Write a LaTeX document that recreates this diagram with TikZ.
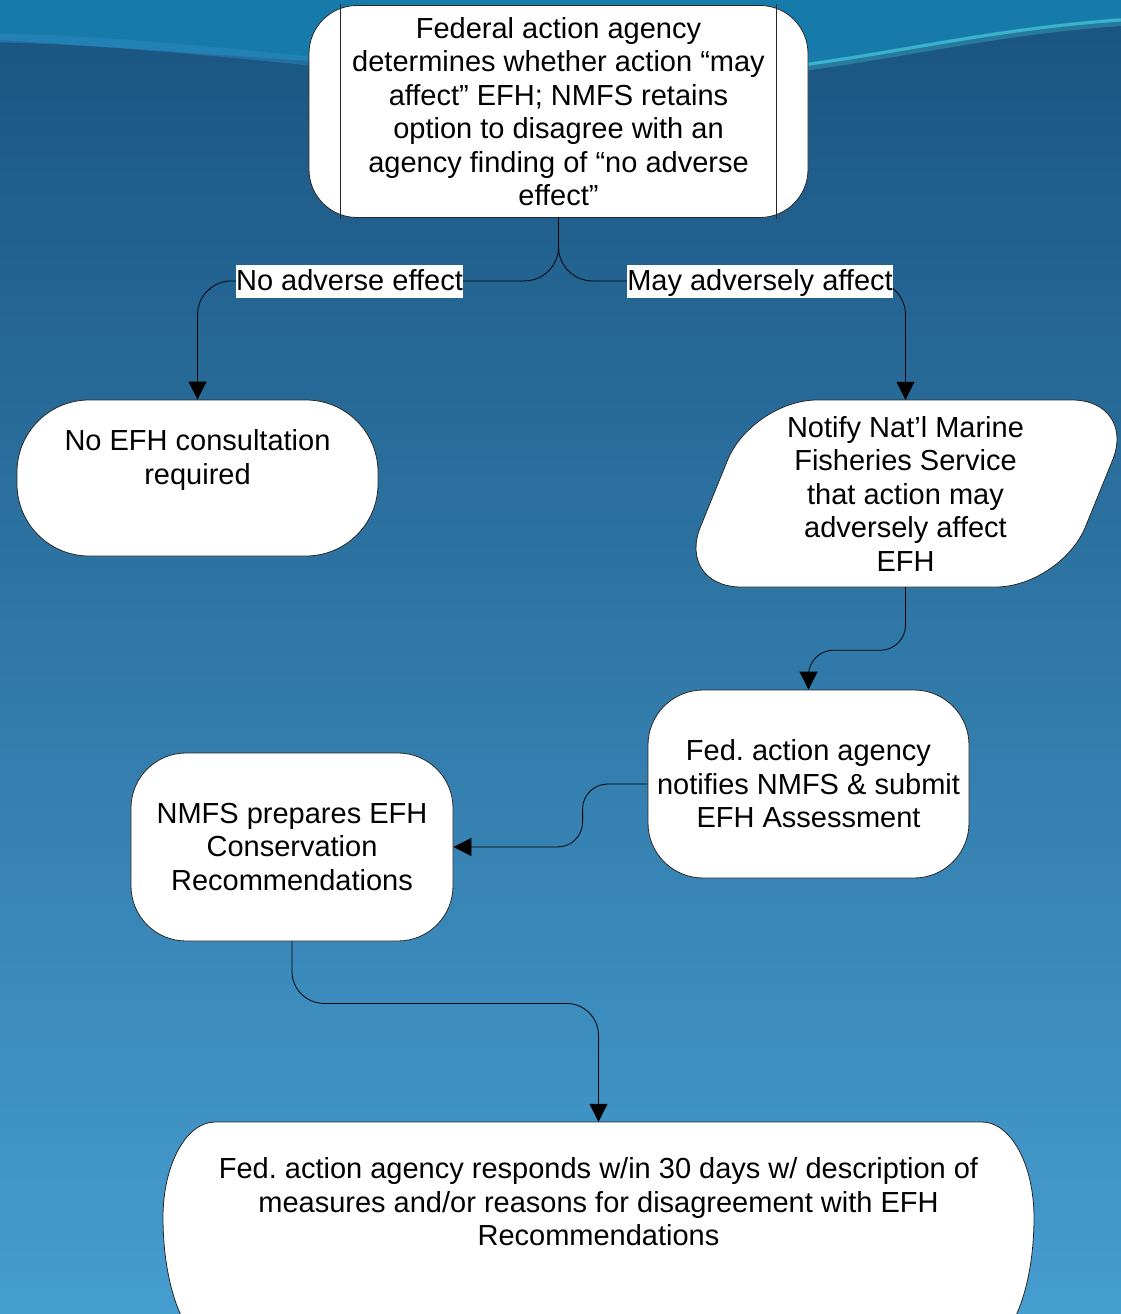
\documentclass[tikz,border=0pt]{standalone}
\usepackage{fontspec}
\setmainfont{Liberation Sans}
\usetikzlibrary{arrows.meta}
\newcommand{\efhfont}{\fontsize{29}{33.5}\selectfont}
\definecolor{bgtop}{RGB}{26,84,128}
\definecolor{bgmid}{RGB}{53,130,183}
\definecolor{bgbot}{RGB}{70,157,208}
\definecolor{wave}{RGB}{22,130,178}
\definecolor{waveline}{RGB}{64,190,212}
\definecolor{waveleft}{RGB}{50,140,195}
\frenchspacing
\begin{document}
\begin{tikzpicture}[x=1pt,y=-1pt,
  outl/.style={draw=black!85, line width=0.8pt},
  flowbox/.style={outl, fill=white, rounded corners=#1, inner sep=0pt, align=center, font=\efhfont},
  txt/.style={align=center, font=\efhfont, inner sep=0pt},
  lbl/.style={fill=white, inner sep=0pt, font=\efhfont, text height=25pt, text depth=7.5pt},
  conn/.style={draw=black, line width=0.8pt, -{Triangle[width=18pt,length=18pt]}}]
\useasboundingbox (0,0) rectangle (1121,1314);
\begin{scope}
\clip (0,0) rectangle (1121,1314);
% background
\shade[top color=bgtop, middle color=bgmid, bottom color=bgbot] (0,0) rectangle (1121,1314);
\fill[wave, opacity=0.85] (0,0) -- (1121,0) -- (1121,20) .. controls (980,30) and (880,58) .. (760,70) .. controls (560,85) and (350,62) .. (0,40) -- cycle;
\draw[waveline, opacity=0.35, line width=8pt] (1121,22) .. controls (980,32) and (880,60) .. (760,72);
\draw[waveline, opacity=0.8, line width=3pt] (1121,20) .. controls (980,30) and (880,58) .. (760,70);
\draw[waveleft, opacity=0.45, line width=9pt] (0,38) .. controls (100,40) and (200,50) .. (330,63);

% top node
\node[flowbox=48pt, minimum width=499pt, minimum height=212pt] (top) at (558.5,111.5)
  {Federal action agency\\determines whether action “may\\affect” EFH; NMFS retains\\option to disagree with an\\agency finding of “no adverse\\effect”};
\draw[outl] ([xshift=32pt,yshift=1pt]top.north west) -- ([xshift=32pt,yshift=-1pt]top.south west);
\draw[outl] ([xshift=-32pt,yshift=1pt]top.north east) -- ([xshift=-32pt,yshift=-1pt]top.south east);

% no EFH consultation
\node[flowbox=72pt, minimum width=361pt, minimum height=156pt] (noefh) at (197.5,478) {};
\node[txt] (noefh-t) at ([yshift=18pt]noefh.center) {No EFH consultation\\required};

% notify (rounded parallelogram)
\filldraw[outl, fill=white, rounded corners=65pt] (950,400) -- (1137,400) -- (1061,587) -- (676,587) -- (752,400) -- cycle;
\node[txt, minimum width=385pt, minimum height=187pt] (notify) at (905.5,493.5)
  {Notify Nat’l Marine\\Fisheries Service\\that action may\\adversely affect\\EFH};

% fed notifies
\node[flowbox=55pt, minimum width=321pt, minimum height=188pt] (fed) at (808.5,784)
  {Fed. action agency\\notifies NMFS \& submit\\EFH Assessment};

% NMFS prepares
\node[flowbox=55pt, minimum width=322pt, minimum height=188pt] (nmfs) at (292,847)
  {NMFS prepares EFH\\Conservation\\Recommendations};

% bottom terminator (runs past the lower edge)
\filldraw[outl, fill=white] (215,1122) -- (982,1122)
  .. controls (1010.7,1122) and (1034,1164.5) .. (1034,1217.5)
  .. controls (1034,1289) and (1010.7,1347) .. (982,1347)
  -- (215,1347)
  .. controls (186.3,1347) and (163,1289) .. (163,1217.5)
  .. controls (163,1164.5) and (186.3,1122) .. (215,1122) -- cycle;
\node[inner sep=0pt, minimum width=871pt, minimum height=191pt] (bot) at (598.5,1217.5) {};
\node[txt] (bot-t) at (598.5,1202)
  {Fed. action agency responds w/in 30 days w/ description of\\measures and/or reasons for disagreement with EFH\\Recommendations};

% connectors
\draw[conn, rounded corners=34pt] (top.south) -- ++(0,63) -| (noefh.north);
\draw[conn, rounded corners=34pt] (top.south) -- ++(0,63) -| (notify.north);
\node[lbl] (l-no) at (349.5,281.5) {No adverse effect};
\node[lbl] (l-may) at (760,281.5) {May adversely affect};
\draw[conn, rounded corners=25pt] (notify.south) -- ++(0,63) -| (fed.north);
\draw[conn, rounded corners=25pt] (fed.west) -- ++(-65,0) |- (nmfs.east);
\draw[conn, rounded corners=32pt] (nmfs.south) -- ++(0,62) -| (bot.north);
\end{scope}
\end{tikzpicture}
\end{document}
